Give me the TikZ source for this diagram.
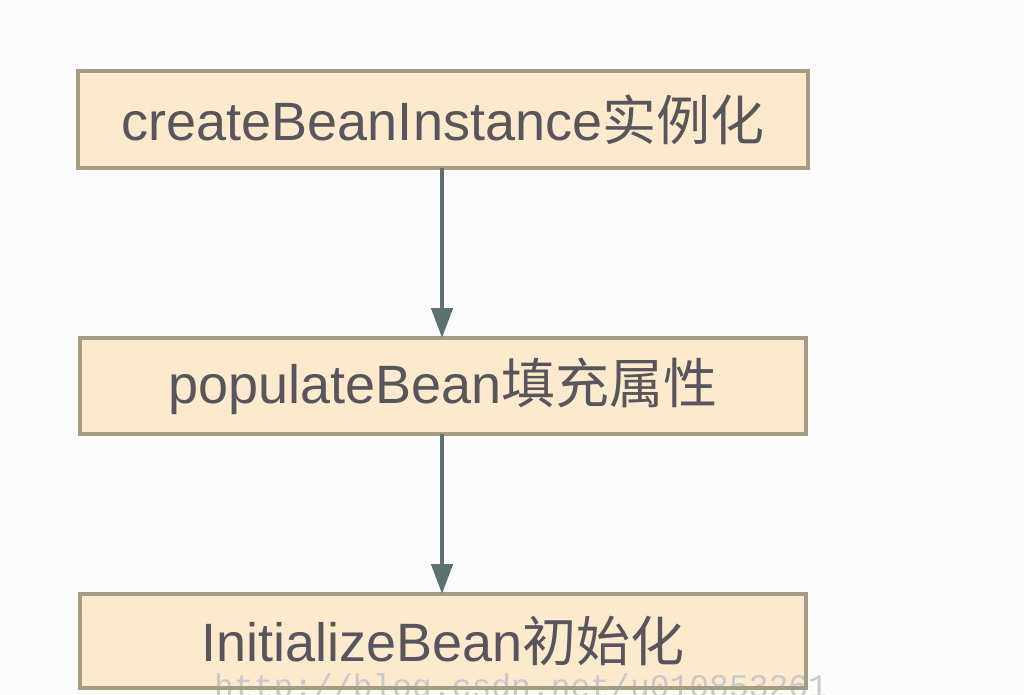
\documentclass[tikz,border=0pt]{standalone}
\usepackage{fontspec}
\setmainfont{Liberation Sans}
\newfontfamily\cjk{Noto Sans CJK SC}
\newfontfamily\wmfont{Liberation Mono}
\usetikzlibrary{arrows.meta}
\definecolor{boxfill}{HTML}{FBEBCC}
\definecolor{boxline}{HTML}{A59C84}
\definecolor{txt}{HTML}{58565A}
\definecolor{arr}{HTML}{5E7073}
\definecolor{wm}{HTML}{C9C9C9}
\definecolor{bg}{HTML}{FDFCFD}
\tikzset{
  stepbox/.style={draw=boxline, line width=4pt, fill=boxfill, inner sep=0pt, outer sep=0pt, anchor=north west, text=txt,
    font=\fontsize{54}{60}\selectfont},
  frame/.style={draw=boxline, line width=4pt},
  flow/.style={draw=arr, line width=4.5pt, -{Triangle[length=30pt,width=21pt]}},
}
\begin{document}
\begin{tikzpicture}[x=1pt,y=1pt]
\useasboundingbox[fill=bg] (0,0) rectangle (1024,-694);
\clip (0,0) rectangle (1024,-694);
\node[stepbox, minimum width=730pt, minimum height=97pt] (b1) at (78,-71) {createBeanInstance{\cjk 实例化}};
\node[stepbox, minimum width=726pt, minimum height=96pt] (b2) at (80,-338) {populateBean{\cjk 填充属性}};
\node[stepbox, minimum width=726pt, minimum height=94pt] (b3) at (80,-594) {InitializeBean{\cjk 初始化}};
\node[anchor=base west, inner sep=0pt, text=wm, font=\wmfont\fontsize{33}{33}\selectfont] (wmk) at (214,-697) {http://blog.csdn.net/u010853261};
\draw[frame] (b3.south west) rectangle (b3.north east);
\draw[flow] (b1.south -| 442,0) -- (b2.north -| 442,0);
\draw[flow] (b2.south -| 442,0) -- (b3.north -| 442,0);
\end{tikzpicture}
\end{document}
